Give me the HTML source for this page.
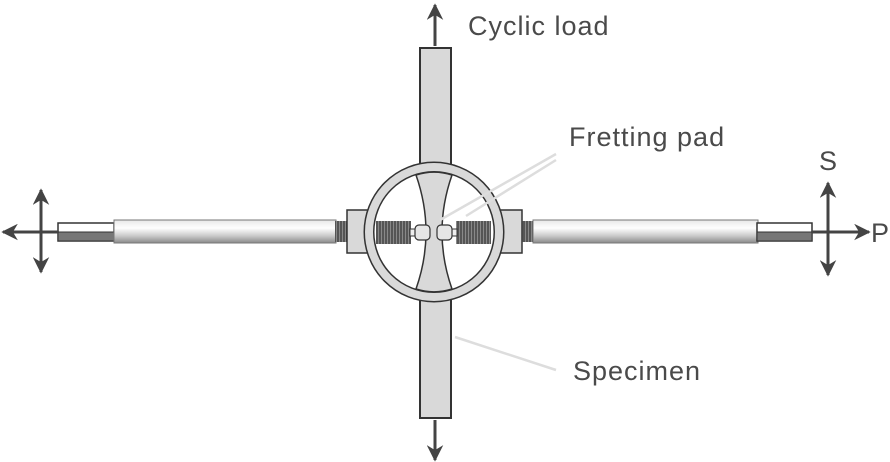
<!DOCTYPE html>
<html><head><style>
html,body{margin:0;padding:0;background:#fff;}
svg{display:block}
text{font-family:"Liberation Sans","DejaVu Sans",sans-serif;fill:#4a4a4a;font-size:27px;letter-spacing:1px}
</style></head><body>
<svg width="890" height="462" viewBox="0 0 890 462" xmlns="http://www.w3.org/2000/svg">
<defs>
<linearGradient id="rod" x1="0" y1="0" x2="0" y2="1">
<stop offset="0" stop-color="#e8e8e8"/><stop offset="0.35" stop-color="#ffffff"/><stop offset="0.7" stop-color="#c8c8c8"/><stop offset="1" stop-color="#8a8a8a"/>
</linearGradient>
<pattern id="coil" width="3" height="10" patternUnits="userSpaceOnUse">
<rect width="3" height="10" fill="#555"/><rect width="1" height="10" fill="#888"/>
</pattern>
<marker id="ah" viewBox="0 0 10 10" refX="9" refY="5" markerWidth="5.5" markerHeight="5.5" orient="auto-start-reverse">
<path d="M0,0 L10,5 L0,10 L3,5 z" fill="#444"/>
</marker>
</defs>
<!-- vertical specimen outside ring -->
<rect x="420" y="48" width="31" height="370" fill="#d9d9d9" stroke="#333" stroke-width="2"/>
<line x1="435" y1="46" x2="435" y2="5" stroke="#444" stroke-width="3" marker-end="url(#ah)"/>
<line x1="435" y1="420" x2="435" y2="460" stroke="#444" stroke-width="3" marker-end="url(#ah)"/>
<!-- left rod -->
<rect x="58" y="223" width="56" height="18" fill="#fff" stroke="#333" stroke-width="1.5"/>
<rect x="58" y="232" width="56" height="9" fill="#777" stroke="#333" stroke-width="1"/>
<rect x="114" y="220" width="222" height="23" fill="url(#rod)" stroke="#777" stroke-width="1"/>
<rect x="335" y="221" width="13" height="21" fill="url(#coil)"/>
<!-- right rod -->
<rect x="520" y="221" width="14" height="21" fill="url(#coil)"/>
<rect x="533" y="220" width="225" height="23" fill="url(#rod)" stroke="#777" stroke-width="1"/>
<rect x="757" y="223" width="55" height="18" fill="#fff" stroke="#333" stroke-width="1.5"/>
<rect x="757" y="232" width="55" height="9" fill="#777" stroke="#333" stroke-width="1"/>
<!-- blocks -->
<rect x="347" y="210" width="30" height="43" fill="#d9d9d9" stroke="#333" stroke-width="1.5"/>
<rect x="492" y="210" width="30" height="43" fill="#d9d9d9" stroke="#333" stroke-width="1.5"/>
<!-- ring -->
<circle cx="434" cy="232" r="60" fill="#fff"/>
<circle cx="434" cy="232" r="65" fill="none" stroke="#333" stroke-width="11"/>
<circle cx="434" cy="232" r="65" fill="none" stroke="#d9d9d9" stroke-width="8"/>
<!-- specimen inside: hourglass -->
<path d="M416,175 Q436,232 416,289 A60,60 0 0 0 452,289 Q432,232 452,175 A60,60 0 0 0 416,175 Z" fill="#d9d9d9" stroke="#333" stroke-width="1.5"/>
<!-- springs -->
<rect x="376" y="221" width="35" height="23" fill="url(#coil)"/>
<rect x="456" y="221" width="35" height="23" fill="url(#coil)"/>
<rect x="410" y="229" width="6" height="7" fill="#eee" stroke="#333" stroke-width="1"/>
<rect x="451" y="229" width="6" height="7" fill="#eee" stroke="#333" stroke-width="1"/>
<rect x="415" y="225" width="15" height="15" rx="4" fill="#e6e6e6" stroke="#333" stroke-width="1.2"/>
<rect x="437" y="225" width="15" height="15" rx="4" fill="#e6e6e6" stroke="#333" stroke-width="1.2"/>
<!-- leaders -->
<line x1="556" y1="154" x2="440" y2="220" stroke="#ddd" stroke-width="2.5"/>
<line x1="556" y1="160" x2="466" y2="216" stroke="#ddd" stroke-width="2.5"/>
<line x1="556" y1="370" x2="455" y2="337" stroke="#ddd" stroke-width="2.5"/>
<!-- left arrows -->
<line x1="41" y1="272" x2="41" y2="190" stroke="#444" stroke-width="3" marker-end="url(#ah)" marker-start="url(#ah)"/>
<line x1="58" y1="232" x2="3" y2="232" stroke="#444" stroke-width="3" marker-end="url(#ah)"/>
<!-- right arrows -->
<line x1="828" y1="275" x2="828" y2="183" stroke="#444" stroke-width="3" marker-end="url(#ah)" marker-start="url(#ah)"/>
<line x1="812" y1="232" x2="869" y2="232" stroke="#444" stroke-width="3" marker-end="url(#ah)"/>
<!-- labels -->
<text x="468" y="35">Cyclic load</text>
<text x="569" y="146">Fretting pad</text>
<text x="573" y="380">Specimen</text>
<text x="819" y="170">S</text>
<text x="871" y="242">P</text>
</svg>
</body></html>
